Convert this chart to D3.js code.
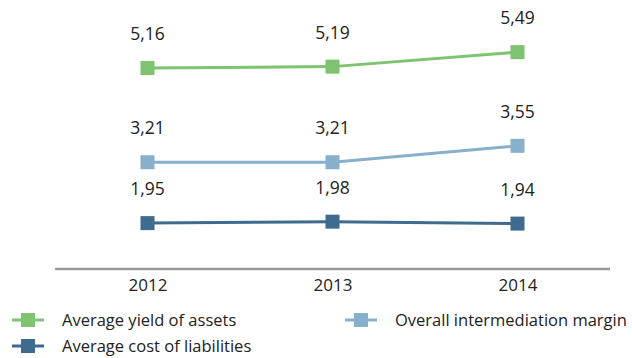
<!DOCTYPE html>
<html>
<head>
<meta charset="utf-8">
<script src="https://cdn.jsdelivr.net/npm/d3@7"></script>
<style>
  body { margin: 0; background: #fff; }
  text { font-family: "Open Sans", "Noto Sans", sans-serif; fill: #222; }
</style>
</head>
<body>
<svg width="632" height="358"></svg>
<script>
const years = ['2012', '2013', '2014'];
const yieldOfAssets = [5.16, 5.19, 5.49];
const intermediationMargin = [3.21, 3.21, 3.55];
const costOfLiabilities = [1.95, 1.98, 1.94];

const seriesNames = ['Average yield of assets', 'Overall intermediation margin', 'Average cost of liabilities'];
const seriesColors = ['#7dc370', '#87b0cd', '#3e6b8e'];

const svg = d3.select('svg');

const series = [yieldOfAssets, intermediationMargin, costOfLiabilities].map((vals, i) => ({
  name: seriesNames[i],
  color: seriesColors[i],
  points: vals.map((v, j) => ({ year: years[j], value: v }))
}));

const xScale = d3.scalePoint()
  .domain(years)
  .range([55, 610])
  .padding(0.5);

const yScale = d3.scaleLinear()
  .domain([1, 6])
  .range([269, 27.5]);

// x axis: gray line, no ticks
const xAxisG = svg.append('g')
  .attr('transform', `translate(0, ${yScale(1)})`)
  .call(d3.axisBottom(xScale).tickSize(0).tickPadding(8));

xAxisG.select('.domain')
  .attr('stroke', '#9a9a9a')
  .attr('stroke-width', 2.5)
  .attr('d', 'M55,0H610');

xAxisG.selectAll('.tick text')
  .style('font-size', '17px')
  .style('font-family', '"Open Sans", "Noto Sans", sans-serif')
  .attr('fill', '#222')
  .attr('dy', '0.85em');

const line = d3.line()
  .x(d => xScale(d.year))
  .y(d => yScale(d.value));

const fmt = v => d3.format('.2f')(v).replace('.', ',');

const sG = svg.selectAll('g.series').data(series)
  .enter().append('g')
    .attr('class', 'series');

sG.append('path')
  .attr('d', d => line(d.points))
  .attr('fill', 'none')
  .attr('stroke', d => d.color)
  .attr('stroke-width', 3);

const ms = 14;
sG.selectAll('rect')
  .data(d => d.points.map(p => ({ ...p, color: d.color })))
  .enter().append('rect')
    .attr('x', d => xScale(d.year) - ms / 2)
    .attr('y', d => yScale(d.value) - ms / 2)
    .attr('width', ms)
    .attr('height', ms)
    .attr('fill', d => d.color);

sG.selectAll('text.val')
  .data(d => d.points)
  .enter().append('text')
    .attr('class', 'val')
    .attr('x', d => xScale(d.year))
    .attr('y', d => yScale(d.value) - 28)
    .attr('text-anchor', 'middle')
    .style('font-size', '17.5px')
    .text(d => fmt(d.value));

// legend
const legendPos = [[12, 320], [345, 320], [12, 346]];
const legend = svg.selectAll('g.legend').data(series)
  .enter().append('g')
    .attr('class', 'legend')
    .attr('transform', (d, i) => `translate(${legendPos[i][0]}, ${legendPos[i][1]})`);

legend.append('line')
  .attr('x1', 0).attr('x2', 32)
  .attr('y1', 0).attr('y2', 0)
  .attr('stroke', d => d.color)
  .attr('stroke-width', 3);

legend.append('rect')
  .attr('x', 9).attr('y', -7)
  .attr('width', 14).attr('height', 14)
  .attr('fill', d => d.color);

legend.append('text')
  .attr('x', 50)
  .attr('y', 0)
  .attr('dy', '0.35em')
  .style('font-size', '16.5px')
  .text(d => d.name);
</script>
</body>
</html>
